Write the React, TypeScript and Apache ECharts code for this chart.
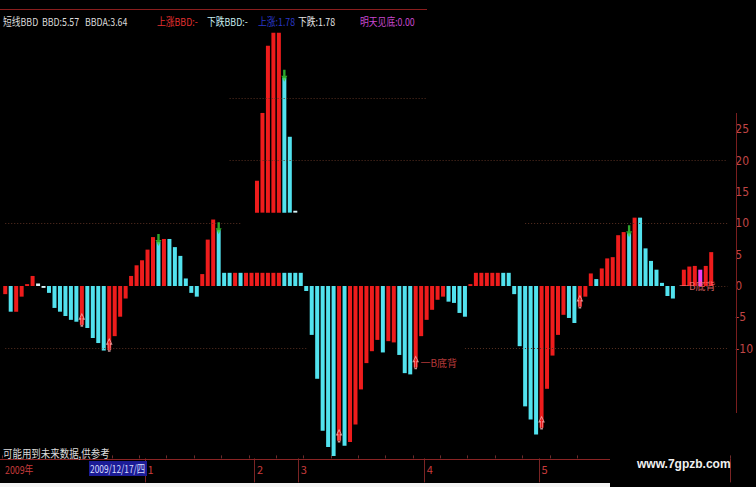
import React, { useEffect, useRef } from 'react';
import * as echarts from 'echarts';

// BBD histogram values, one per trading day (index 0..129)
const bbd = [
  -1.3, -4.1, -4.1, -1.7, 0.3, 1.6, 0.4, -0.3, -1.1, -3.5,
  -4.1, -4.8, -5.4, -5.7, -6.2, -6.7, -8.3, -9.1, -10.3, -10.2,
  -8.0, -4.9, -2.0, 1.6, 3.3, 4.1, 5.8, 7.8, 7.0, 7.5,
  7.5, 6.2, 4.8, 1.2, -1.1, -1.7, 1.9, 7.4, 10.6, 8.9,
  2.1, 2.1, 2.1, 2.1, 2.1, 2.1, 2.1, 2.1, 2.1, 2.1,
  2.1, 2.1, 2.1, 2.1, 2.1, -0.8, -7.8, -14.8, -23.1, -25.7,
  -27.1, -24.7, -25.5, -24.9, -22.1, -16.5, -12.3, -10.4, -8.6, -10.6,
  -8.8, -9.0, -11.0, -13.9, -14.1, -13.0, -8.0, -5.4, -3.8, -2.2,
  -1.7, -2.5, -2.7, -4.3, -4.9, 0.3, 2.1, 2.1, 2.1, 2.1,
  2.1, 2.1, 2.1, -1.3, -9.6, -19.2, -21.3, -23.7, -22.6, -16.4,
  -11.1, -7.8, -4.6, -5.1, -5.9, -3.3, -1.7, 2.0, 1.1, 2.8,
  4.4, 4.6, 8.1, 8.6, 8.4, 10.9, 10.9, 6.0, 4.0, 2.6,
  0.5, -1.6, -2.0, 0, 2.6, 3.1, 3.2, 2.6, 3.2, 5.4,
];
// colour kind per bar: r = up (red), c = down (cyan), w = flat, m = magenta
const kinds = [
  'r','c','r','r','r','r','w','w','c','c',
  'c','c','c','c','r','c','c','c','c','r',
  'r','r','r','r','r','r','r','r','c','r',
  'c','c','c','c','c','c','r','r','r','c',
  'c','c','r','c','r','r','r','r','r','r',
  'r','c','c','c','c','c','c','c','c','c',
  'c','r','c','r','r','r','r','r','r','c',
  'r','r','c','c','c','r','r','r','r','r',
  'r','c','c','c','c','r','r','r','r','r',
  'r','c','c','c','c','c','c','c','r','r',
  'r','r','r','c','c','r','r','r','c','r',
  'r','r','r','r','c','r','c','c','c','c',
  'c','c','c','r','r','r','r','m','r','r',
];
// floating spike segment
const spikeIdx = [46, 47, 48, 49, 50, 51, 52, 53];
const spikeTop = [16.8, 27.6, 38.3, 40.4, 40.4, 33.2, 23.8, 12.0];
const spikeKinds = ['r', 'r', 'r', 'r', 'r', 'c', 'c', 'w'];
const spikeBase = 11.7;
// signals
const upArrowIdx = [14, 19, 61, 75, 98, 105];
const downArrowIdx = [28, 39, 51, 114];
const divergenceIdx = [75, 123];
const divergenceText = '一B底背';
// axes
const monthIdx = [26, 46, 54, 77, 98];
const monthLabels = ['1', '2', '3', '4', '5'];
const yTickLabels = [-10, -5, 0, 5, 10, 15, 20, 25];
const categoryCount = 133;
// dotted reference levels: [fromIdx, toIdx, value]
const refLines = [
  [41, 77, 30], [41, 132, 20], [0, 43, 10], [95, 132, 10],
  [127, 132, 0], [0, 55, -10], [84, 132, -10],
];
// header texts
const headerTexts = ['短线BBD', 'BBD:5.57', 'BBDA:3.64', '上涨BBD:-', '下跌BBD:-', '上涨:1.78', '下跌:1.78', '明天见底:0.00'];

const COLORS: Record<string, string> = { r: '#ee1c1c', c: '#52e2ee', w: '#d8f4f8', m: '#f040f0' };
const headerX = [3, 42, 85, 157, 207, 258, 298, 360];
const headerColors = ['#dcdcdc', '#dcdcdc', '#dcdcdc', '#e43030', '#c8eef0', '#2a38c8', '#e4e4e4', '#c848d0'];

const UP_ARROW = 'path://M5,0 L10,5 L7,5 L7,12 L3,12 L3,5 L0,5 Z';
const DOWN_ARROW = 'path://M5,12 L10,6 L7,6 L7,0 L3,0 L3,6 L0,6 Z';

function valueAt(i: number) {
  const s = spikeIdx.indexOf(i);
  return s >= 0 ? spikeTop[s] : bbd[i];
}

export default function App() {
  const ref = useRef<HTMLDivElement>(null);
  useEffect(() => {
    if (!ref.current) return;
    const chart = echarts.init(ref.current, null, { renderer: 'svg' });
    const cats = Array.from({ length: categoryCount }, (_, i) => String(i));
    const font = '"Noto Sans CJK SC", "Noto Sans", sans-serif';

    const barData = cats.map((_, i) =>
      i < bbd.length ? { value: bbd[i], itemStyle: { color: COLORS[kinds[i]] } } : '-'
    );
    const gapData = cats.map((_, i) => {
      const s = spikeIdx.indexOf(i);
      return s >= 0 ? { value: +(spikeBase - bbd[i]).toFixed(2), itemStyle: { color: 'rgba(0,0,0,0)' } } : '-';
    });
    const spikeData = cats.map((_, i) => {
      const s = spikeIdx.indexOf(i);
      return s >= 0 ? { value: +(spikeTop[s] - spikeBase).toFixed(2), itemStyle: { color: COLORS[spikeKinds[s]] } } : '-';
    });

    const textStyle = (t: string, fill: string, extra: any = {}) => ({
      text: t, fill, fontSize: 11, fontFamily: font,
      align: 'left', verticalAlign: 'middle', textAlign: 'left', textVerticalAlign: 'middle', ...extra,
    });

    const headerGraphics = headerTexts.map((t, k) => ({
      type: 'text', x: headerX[k], y: 21, scaleX: 0.8, z: 100,
      style: textStyle(t, headerColors[k]),
    }));

    chart.setOption({
      animation: false,
      backgroundColor: '#000',
      grid: { left: 2.5, right: 19.6, top: 25.8, bottom: 28.6 },
      xAxis: [
        {
          type: 'category', data: cats, boundaryGap: true, position: 'bottom',
          axisLine: { show: false, onZero: false },
          axisTick: { show: true, inside: false, length: 24, interval: (i: number) => monthIdx.includes(i), lineStyle: { color: '#7a2424' } },
          axisLabel: {
            interval: 0, margin: 5, align: 'left', color: '#c83c3c', fontSize: 11, fontFamily: font,
            formatter: (_v: string, i: number) => { const k = monthIdx.indexOf(i); return k >= 0 ? monthLabels[k] : ''; },
          },
          splitLine: { show: false },
        },
        {
          type: 'category', data: cats, boundaryGap: true, position: 'bottom',
          axisLine: { show: false, onZero: false }, axisLabel: { show: false }, splitLine: { show: false },
          axisTick: { show: true, inside: true, length: 3, interval: (i: number) => i % 5 === 0 && i <= 108, lineStyle: { color: '#6b2a2a' } },
        },
      ],
      yAxis: {
        type: 'value', position: 'right', min: -27.5, max: 41.5,
        splitLine: { show: false }, axisLine: { show: false }, axisTick: { show: false },
        axisLabel: { customValues: yTickLabels, color: '#c04646', fontSize: 12, margin: 5, fontFamily: '"Liberation Sans Narrow", "DejaVu Sans Condensed", "Liberation Sans", sans-serif' },
      },
      series: [
        {
          type: 'line', data: [], z: 1, silent: true,
          markLine: {
            silent: true, symbol: ['none', 'none'], label: { show: false },
            lineStyle: { type: [1, 2], color: '#5a3022', width: 1 },
            data: refLines.map(([a, b, v]) => [{ coord: [a, v] }, { coord: [b, v] }]),
          },
        },
        { type: 'bar', name: 'BBD', stack: 'a', barWidth: 4, data: barData, z: 2 },
        { type: 'bar', name: 'gap', stack: 'a', barWidth: 4, data: gapData, z: 2, silent: true },
        { type: 'bar', name: 'spike', stack: 'a', barWidth: 4, data: spikeData, z: 2 },
        {
          type: 'scatter', z: 5, symbol: UP_ARROW, symbolSize: [5, 12], symbolOffset: [0, -5],
          itemStyle: { color: 'rgba(0,0,0,0)', borderColor: '#f6b0b0', borderWidth: 1 },
          data: upArrowIdx.map((i) => {
            const item: any = { value: [i, valueAt(i)] };
            if (i === divergenceIdx[0]) {
              item.label = { show: true, position: 'right', distance: 2, formatter: divergenceText, color: '#e04848', fontSize: 10, fontFamily: font };
            }
            return item;
          }),
        },
        {
          type: 'scatter', z: 5, symbol: DOWN_ARROW, symbolSize: [6, 12], symbolOffset: [0, -2],
          itemStyle: { color: '#3ad03a' },
          data: downArrowIdx.map((i) => [i, valueAt(i)]),
        },
        {
          type: 'scatter', z: 6, symbol: 'rect', symbolSize: 1, itemStyle: { color: 'rgba(0,0,0,0)' },
          label: { show: true, position: 'right', distance: 0, formatter: divergenceText, color: '#ff7474', fontSize: 10, fontFamily: font },
          data: [[divergenceIdx[1], valueAt(divergenceIdx[1])]],
        },
      ],
      graphic: [
        { type: 'line', shape: { x1: 0, y1: 9.5, x2: 427, y2: 9.5 }, style: { stroke: '#8a1e1e', lineWidth: 1 }, z: 100 },
        ...headerGraphics,
        { type: 'line', shape: { x1: 736.5, y1: 113, x2: 736.5, y2: 413 }, style: { stroke: '#7a1e1e', lineWidth: 1 }, z: 100 },
        { type: 'line', shape: { x1: 0, y1: 459.5, x2: 610, y2: 459.5 }, style: { stroke: '#8a2424', lineWidth: 1 }, z: 100 },
        { type: 'rect', shape: { x: 0, y: 483, width: 610, height: 4 }, style: { fill: '#f4f4f4' }, z: 100 },
        { type: 'text', x: 3, y: 453, scaleX: 0.86, z: 100, style: textStyle('可能用到未来数据,供参考', '#dcdcdc') },
        { type: 'text', x: 5, y: 469, scaleX: 0.8, z: 100, style: textStyle('2009年', '#c83c3c') },
        { type: 'rect', shape: { x: 89, y: 461, width: 58, height: 15 }, style: { fill: '#1c1c96' }, z: 100 },
        { type: 'text', x: 90, y: 468.5, scaleX: 0.76, z: 101, style: textStyle('2009/12/17/四', '#d8dcff') },
        {
          type: 'text', x: 637, y: 463.5, z: 100,
          style: textStyle('www.7gpzb.com', '#f0f0f0', { fontSize: 12, fontWeight: 'bold', fontFamily: '"Liberation Sans", Arial, sans-serif' }),
        },
      ],
    });
    return () => chart.dispose();
  }, []);
  return (
    <div style={{ position: 'fixed', left: 0, top: 0, width: 756, height: 487, background: '#000' }}>
      <div ref={ref} style={{ width: 756, height: 487 }} />
    </div>
  );
}
